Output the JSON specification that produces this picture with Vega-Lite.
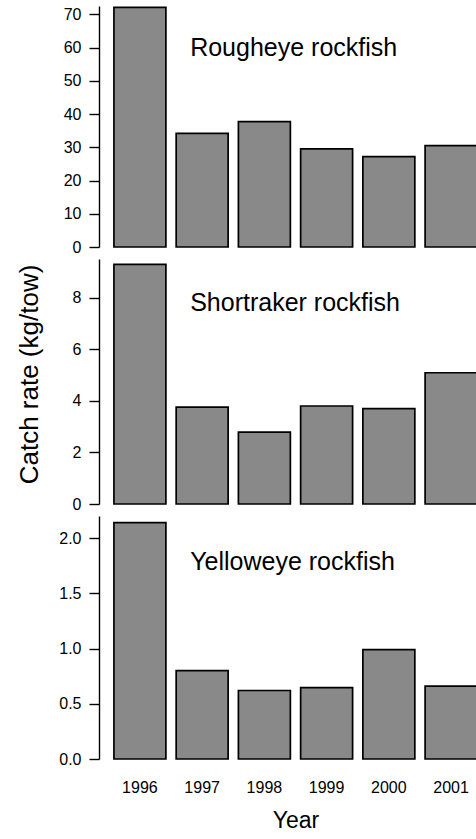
{
  "$schema": "https://vega.github.io/schema/vega-lite/v6.json",
  "padding": {"left": 16, "top": 6, "right": 0, "bottom": 0},
  "spacing": 4,
  "config": {
    "font": "Liberation Sans",
    "view": {"stroke": null},
    "axis": {"labelFont": "Liberation Sans", "titleFont": "Liberation Sans", "labelColor": "#000", "titleColor": "#000", "domainColor": "#000", "tickColor": "#000", "grid": false, "domainWidth": 1.4, "tickWidth": 1.4},
    "bar": {"fill": "#898989", "stroke": "#000", "strokeWidth": 1.7}
  },
  "datasets": {
    "rates": [
      {"year": "1996", "species": "Rougheye", "rate": 72.1},
      {"year": "1997", "species": "Rougheye", "rate": 34.2},
      {"year": "1998", "species": "Rougheye", "rate": 37.7},
      {"year": "1999", "species": "Rougheye", "rate": 29.5},
      {"year": "2000", "species": "Rougheye", "rate": 27.2},
      {"year": "2001", "species": "Rougheye", "rate": 30.5},
      {"year": "1996", "species": "Shortraker", "rate": 9.29},
      {"year": "1997", "species": "Shortraker", "rate": 3.76},
      {"year": "1998", "species": "Shortraker", "rate": 2.79},
      {"year": "1999", "species": "Shortraker", "rate": 3.8},
      {"year": "2000", "species": "Shortraker", "rate": 3.7},
      {"year": "2001", "species": "Shortraker", "rate": 5.09},
      {"year": "1996", "species": "Yelloweye", "rate": 2.14},
      {"year": "1997", "species": "Yelloweye", "rate": 0.8},
      {"year": "1998", "species": "Yelloweye", "rate": 0.62},
      {"year": "1999", "species": "Yelloweye", "rate": 0.646},
      {"year": "2000", "species": "Yelloweye", "rate": 0.99},
      {"year": "2001", "species": "Yelloweye", "rate": 0.66}
    ],
    "labels": [
      {"species": "Rougheye", "label": "Rougheye rockfish"},
      {"species": "Shortraker", "label": "Shortraker rockfish"},
      {"species": "Yelloweye", "label": "Yelloweye rockfish"}
    ]
  },
  "vconcat": [
    {
      "width": 393, "height": 241,
      "layer": [
        {
          "data": {"name": "rates"},
          "transform": [{"filter": "datum.species === 'Rougheye'"}],
          "mark": {"type": "bar"},
          "encoding": {
            "x": {"field": "year", "type": "ordinal", "scale": {"paddingInner": 0.165, "paddingOuter": 0.24}, "axis": null},
            "y": {"field": "rate", "type": "quantitative", "scale": {"domain": [0, 72.5], "nice": false},
                  "axis": {"values": [0, 10, 20, 30, 40, 50, 60, 70], "title": null, "tickSize": 10, "labelPadding": 8, "labelFontSize": 16}}
          }
        },
        {
          "data": {"name": "labels"},
          "transform": [{"filter": "datum.species === 'Rougheye'"}],
          "mark": {"type": "text", "align": "left", "baseline": "middle", "fontSize": 25, "dx": -12, "color": "#000"},
          "encoding": {
            "x": {"datum": "1997", "type": "ordinal", "axis": null},
            "y": {"datum": 60, "type": "quantitative",
                  "axis": {"values": [0, 10, 20, 30, 40, 50, 60, 70], "title": null, "tickSize": 10, "labelPadding": 8, "labelFontSize": 16}},
            "text": {"field": "label"}
          }
        }
      ]
    },
    {
      "width": 393, "height": 245,
      "layer": [
        {
          "data": {"name": "rates"},
          "transform": [{"filter": "datum.species === 'Shortraker'"}],
          "mark": {"type": "bar"},
          "encoding": {
            "x": {"field": "year", "type": "ordinal", "scale": {"paddingInner": 0.165, "paddingOuter": 0.24}, "axis": null},
            "y": {"field": "rate", "type": "quantitative", "scale": {"domain": [0, 9.5], "nice": false},
                  "axis": {"values": [0, 2, 4, 6, 8], "title": "Catch rate (kg/tow)", "titleFontSize": 26, "titleFontWeight": "normal", "titlePadding": 30, "titleY": 115, "tickSize": 10, "labelPadding": 8, "labelFontSize": 16}}
          }
        },
        {
          "data": {"name": "labels"},
          "transform": [{"filter": "datum.species === 'Shortraker'"}],
          "mark": {"type": "text", "align": "left", "baseline": "middle", "fontSize": 25, "dx": -12, "color": "#000"},
          "encoding": {
            "x": {"datum": "1997", "type": "ordinal", "axis": null},
            "y": {"datum": 7.78, "type": "quantitative",
                  "axis": {"values": [0, 2, 4, 6, 8], "title": "Catch rate (kg/tow)", "titleFontSize": 26, "titleFontWeight": "normal", "titlePadding": 30, "titleY": 115, "tickSize": 10, "labelPadding": 8, "labelFontSize": 16}},
            "text": {"field": "label"}
          }
        }
      ]
    },
    {
      "width": 393, "height": 243,
      "layer": [
        {
          "data": {"name": "rates"},
          "transform": [{"filter": "datum.species === 'Yelloweye'"}],
          "mark": {"type": "bar"},
          "encoding": {
            "x": {"field": "year", "type": "ordinal", "scale": {"paddingInner": 0.165, "paddingOuter": 0.24},
                  "axis": {"title": "Year", "titleFontSize": 23, "titleFontWeight": "normal", "titlePadding": 14, "labelAngle": 0, "labelFontSize": 16, "labelPadding": 20, "domain": false, "ticks": false}},
            "y": {"field": "rate", "type": "quantitative", "scale": {"domain": [0, 2.2], "nice": false},
                  "axis": {"values": [0, 0.5, 1, 1.5, 2], "format": ".1f", "title": null, "tickSize": 10, "labelPadding": 8, "labelFontSize": 16}}
          }
        },
        {
          "data": {"name": "labels"},
          "transform": [{"filter": "datum.species === 'Yelloweye'"}],
          "mark": {"type": "text", "align": "left", "baseline": "middle", "fontSize": 25, "dx": -12, "color": "#000"},
          "encoding": {
            "x": {"datum": "1997", "type": "ordinal",
                  "axis": {"title": "Year", "titleFontSize": 23, "titleFontWeight": "normal", "titlePadding": 14, "labelAngle": 0, "labelFontSize": 16, "labelPadding": 20, "domain": false, "ticks": false}},
            "y": {"datum": 1.78, "type": "quantitative",
                  "axis": {"values": [0, 0.5, 1, 1.5, 2], "format": ".1f", "title": null, "tickSize": 10, "labelPadding": 8, "labelFontSize": 16}},
            "text": {"field": "label"}
          }
        }
      ]
    }
  ]
}
